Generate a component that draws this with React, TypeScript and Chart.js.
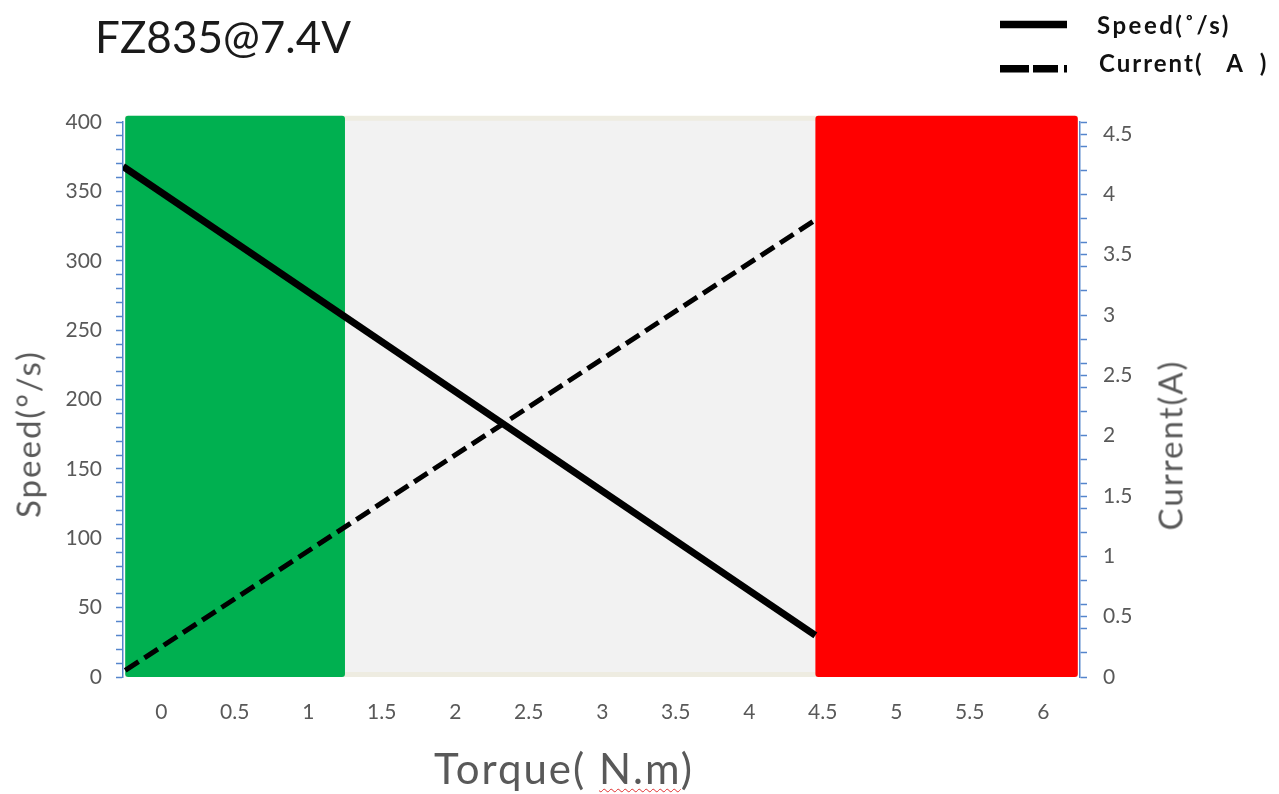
import React, { useEffect, useRef } from 'react';
import { Chart, registerables } from 'chart.js';

Chart.register(...registerables);

// ---------- data ----------
const chartTitle = 'FZ835@7.4V';
const speedLabel = 'Speed(˚/s)';
const currentLabel = 'Current(   A  )';
const speedAxisTitle = 'Speed(°/s)';
const currentAxisTitle = 'Current(A)';
const torqueAxisTitle = 'Torque( ';
const torqueAxisUnit = 'N.m';

const torqueTicks = [0, 0.5, 1, 1.5, 2, 2.5, 3, 3.5, 4, 4.5, 5, 5.5, 6];
const speedTicks = [
  0, 10, 20, 30, 40, 50, 60, 70, 80, 90, 100, 110, 120, 130, 140, 150, 160, 170, 180, 190, 200,
  210, 220, 230, 240, 250, 260, 270, 280, 290, 300, 310, 320, 330, 340, 350, 360, 370, 380, 390, 400,
];
const speedLabelledTicks = [0, 50, 100, 150, 200, 250, 300, 350, 400];
const currentTicks = [
  0, 0.2, 0.4, 0.5, 0.6, 0.8, 1, 1.2, 1.4, 1.5, 1.6, 1.8, 2, 2.2, 2.4, 2.5, 2.6, 2.8, 3, 3.2, 3.4,
  3.5, 3.6, 3.8, 4, 4.2, 4.4, 4.5, 4.6,
];
const currentLabelledTicks = [0, 0.5, 1, 1.5, 2, 2.5, 3, 3.5, 4, 4.5];

const torqueRange = [-0.26, 6.25];
const speedRange = [0, 400];
const currentRange = [0, 4.6];

// Speed (°/s) vs torque
const speedTorque = [-0.26, 4.45];
const speedValues = [368, 30];
// Current (A) vs torque
const currentTorque = [-0.245, 4.44];
const currentValues = [0.055, 3.78];

// background zones (torque from / to), top in speed units
const zoneFrom = [-0.245, -0.245, 4.45];
const zoneTo = [6.235, 1.25, 6.235];
const zoneTop = 404.5;

// ---------- styles ----------
const AXIS_BLUE = '#5585cc';
const TEXT_GREY = '#595959';
const ZONE_COLORS = ['#F2F2F2', '#00B050', '#FF0000'];
const FRAME_BEIGE = '#EEECE1';
const FONT = 'Lato, "Open Sans", sans-serif';

const zonesPlugin = {
  id: 'zones',
  beforeDatasetsDraw(chart: any) {
    const { ctx, scales } = chart;
    const x = scales.x;
    const y = scales.y;
    ctx.save();
    const yTop = y.getPixelForValue(zoneTop);
    const yBot = y.getPixelForValue(0);
    zoneFrom.forEach((from, i) => {
      const x0 = x.getPixelForValue(from);
      const x1 = x.getPixelForValue(zoneTo[i]);
      if (i === 0) {
        ctx.fillStyle = FRAME_BEIGE;
        ctx.fillRect(x0, yTop, x1 - x0, yBot - yTop);
        ctx.fillStyle = ZONE_COLORS[0];
        ctx.fillRect(x0, yTop + 5, x1 - x0, yBot - yTop - 10);
      } else {
        ctx.fillStyle = ZONE_COLORS[i];
        ctx.beginPath();
        if (ctx.roundRect) ctx.roundRect(x0, yTop, x1 - x0, yBot - yTop, 3);
        else ctx.rect(x0, yTop, x1 - x0, yBot - yTop);
        ctx.fill();
      }
    });
    ctx.restore();
  },
};

function pairs(xs: number[], ys: number[]) {
  return xs.map((v, i) => ({ x: v, y: ys[i] }));
}

function fmt(v: number) {
  return String(Math.round(v * 100) / 100);
}

export default function App() {
  const canvasRef = useRef<HTMLCanvasElement | null>(null);

  useEffect(() => {
    const canvas = canvasRef.current;
    if (!canvas) return;
    const chart = new Chart(canvas, {
      type: 'line',
      data: {
        datasets: [
          {
            label: speedLabel,
            data: pairs(speedTorque, speedValues),
            borderColor: '#000000',
            backgroundColor: '#000000',
            borderWidth: 7,
            pointRadius: 0,
            borderCapStyle: 'butt',
            yAxisID: 'y',
            tension: 0,
          },
          {
            label: currentLabel,
            data: pairs(currentTorque, currentValues),
            borderColor: '#000000',
            backgroundColor: '#000000',
            borderWidth: 5,
            borderDash: [16, 7],
            pointRadius: 0,
            borderCapStyle: 'butt',
            yAxisID: 'y1',
            tension: 0,
          },
        ],
      },
      options: {
        animation: false,
        responsive: false,
        devicePixelRatio: 1,
        layout: { padding: { top: 122, left: 0, right: 0, bottom: 0 } },
        plugins: {
          legend: { display: false },
          title: { display: false },
          tooltip: { enabled: false },
        },
        scales: {
          x: {
            type: 'linear',
            min: torqueRange[0],
            max: torqueRange[1],
            afterBuildTicks: (s: any) => {
              s.ticks = torqueTicks.map((v) => ({ value: v }));
            },
            afterFit: (s: any) => {
              s.height = 117;
            },
            grid: { display: false, drawTicks: false, tickLength: 0 },
            border: { display: false },
            ticks: {
              autoSkip: false,
              maxRotation: 0,
              padding: 23,
              color: TEXT_GREY,
              font: { family: FONT, size: 21 },
              callback: (v: any) => fmt(Number(v)),
            },
          },
          y: {
            type: 'linear',
            position: 'left',
            min: speedRange[0],
            max: speedRange[1],
            afterBuildTicks: (s: any) => {
              s.ticks = speedTicks.map((v) => ({ value: v }));
            },
            afterFit: (s: any) => {
              s.width = 123;
            },
            grid: {
              drawOnChartArea: false,
              drawTicks: true,
              tickLength: 7,
              tickColor: AXIS_BLUE,
              tickWidth: 1.5,
              color: AXIS_BLUE,
            },
            border: { display: true, color: AXIS_BLUE, width: 1.5 },
            ticks: {
              autoSkip: false,
              padding: 14,
              color: TEXT_GREY,
              font: { family: FONT, size: 21 },
              callback: (v: any) => (speedLabelledTicks.includes(Number(v)) ? fmt(Number(v)) : ''),
            },
          },
          y1: {
            type: 'linear',
            position: 'right',
            min: currentRange[0],
            max: currentRange[1],
            afterBuildTicks: (s: any) => {
              s.ticks = currentTicks.map((v) => ({ value: v }));
            },
            afterFit: (s: any) => {
              s.width = 199;
            },
            grid: {
              drawOnChartArea: false,
              drawTicks: true,
              tickLength: 7,
              tickColor: AXIS_BLUE,
              tickWidth: 1.5,
              color: AXIS_BLUE,
            },
            border: { display: true, color: AXIS_BLUE, width: 1.5 },
            ticks: {
              autoSkip: false,
              padding: 16,
              color: TEXT_GREY,
              font: { family: FONT, size: 21 },
              callback: (v: any) =>
                currentLabelledTicks.some((t) => Math.abs(t - Number(v)) < 1e-9) ? fmt(Number(v)) : '',
            },
          },
        },
      },
      plugins: [zonesPlugin],
    } as any);
    return () => chart.destroy();
  }, []);

  const abs: React.CSSProperties = { position: 'absolute', whiteSpace: 'pre', lineHeight: 1 };

  return (
    <div
      style={{
        position: 'fixed',
        left: 0,
        top: 0,
        width: 1279,
        height: 794,
        background: '#ffffff',
        overflow: 'hidden',
        fontFamily: FONT,
      }}
    >
      <canvas ref={canvasRef} width={1279} height={794} style={{ position: 'absolute', left: 0, top: 0 }} />
      <div style={{ ...abs, left: 95, top: 14, fontSize: 44, color: '#1a1a1a' }}>{chartTitle}</div>

      <svg style={{ position: 'absolute', left: 0, top: 0 }} width={1279} height={100}>
        <line x1={1000} y1={24.5} x2={1067} y2={24.5} stroke="#000" strokeWidth={7.5} />
        <line x1={1000} y1={68.8} x2={1067} y2={68.8} stroke="#000" strokeWidth={7.5} strokeDasharray="29 4 25 6" />
      </svg>
      <div style={{ ...abs, left: 1097, top: 13, fontSize: 24, fontWeight: 700, color: '#111', letterSpacing: 2.5 }}>
        {speedLabel}
      </div>
      <div style={{ ...abs, left: 1099, top: 51, fontSize: 24, fontWeight: 700, color: '#111', letterSpacing: 2 }}>
        {currentLabel}
      </div>

      <div
        style={{
          ...abs,
          left: 27.5,
          top: 434,
          fontSize: 33,
          letterSpacing: 2,
          color: TEXT_GREY,
          transform: 'translate(-50%, -50%) rotate(-90deg)',
        }}
      >
        {speedAxisTitle}
      </div>
      <div
        style={{
          ...abs,
          left: 1170,
          top: 445,
          fontSize: 33,
          letterSpacing: 2,
          color: TEXT_GREY,
          transform: 'translate(-50%, -50%) rotate(-90deg)',
        }}
      >
        {currentAxisTitle}
      </div>
      <div
        style={{
          ...abs,
          left: 564,
          top: 768,
          fontSize: 42,
          letterSpacing: 2,
          color: TEXT_GREY,
          transform: 'translate(-50%, -50%)',
        }}
      >
        {torqueAxisTitle}
        <span style={{ textDecoration: 'underline wavy #e03030', textDecorationThickness: 1, textUnderlineOffset: 4 }}>
          {torqueAxisUnit}
        </span>
        )
      </div>
    </div>
  );
}
